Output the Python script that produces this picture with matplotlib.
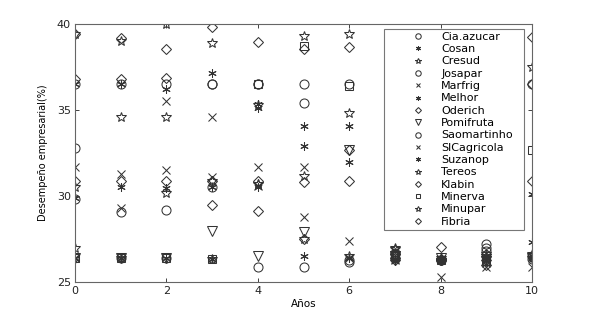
import matplotlib
matplotlib.use("Agg")
import matplotlib.pyplot as plt
import numpy as np

plt.rcParams['font.family'] = ['DejaVu Sans']

years = list(range(11))
names = ["Cia.azucar", "Cosan", "Cresud", "Josapar", "Marfrig", "Melhor", "Oderich",
         "Pomifruta", "Saomartinho", "SlCagricola", "Suzanop", "Tereos", "Klabin",
         "Minerva", "Minupar", "Fibria"]

cia_azucar  = [36.5, 36.5, 36.5, 36.5, 36.5, 36.5, 36.5, 26.6, 26.3, 27.2, 26.5]
cosan       = [26.4, 26.4, 26.4, 26.35, 35.1, 26.5, 26.4, 26.2, 26.4, 26.4, 26.4]
cresud      = [39.4, 39.0, 40.0, 38.9, 30.7, 39.3, 39.4, 27.0, 26.3, 26.5, 37.5]
josapar     = [32.8, 29.05, 29.2, 30.55, 25.85, 35.4, 26.15, 26.4, 26.3, 27.0, 36.5]
marfrig     = [31.7, 31.3, 31.5, 31.1, 31.7, 31.7, 27.4, 26.8, 25.3, 26.1, 25.85]
melhor      = [36.5, 36.5, 36.2, 37.15, 35.35, 34.05, 34.05, 26.3, 26.3, 26.3, 30.1]
oderich     = [36.8, 36.8, 36.85, 29.5, 29.1, 27.5, 32.7, 26.6, 27.05, 26.6, 39.25]
pomifruta   = [26.4, 26.4, 26.4, 27.95, 26.5, 27.9, 32.7, 26.5, 26.4, 26.2, 26.4]
saomartinho = [29.8, 26.4, 26.4, 36.5, 36.5, 25.85, 26.3, 26.7, 26.3, 26.8, 26.35]
slcagricola = [26.4, 29.3, 35.5, 34.6, 30.6, 28.8, 26.4, 26.3, 26.35, 25.85, 26.5]
suzanop     = [29.9, 30.55, 30.45, 30.55, 30.55, 32.9, 31.95, 26.2, 26.2, 26.5, 27.3]
tereos      = [27.0, 34.6, 34.6, 30.85, 35.3, 31.15, 34.8, 26.9, 26.3, 26.4, 26.4]
klabin      = [30.85, 30.85, 30.85, 30.85, 30.85, 30.8, 30.85, 26.4, 26.3, 26.3, 30.85]
minerva     = [26.4, 26.4, 26.4, 26.35, 36.5, 38.7, 36.4, 26.5, 26.3, 26.2, 32.7]
minupar     = [30.5, 26.4, 30.2, 26.35, 30.7, 27.5, 26.5, 26.7, 26.4, 26.6, 26.6]
fibria      = [39.4, 39.2, 38.55, 39.8, 38.95, 38.55, 38.65, 26.3, 26.35, 26.0, 36.5]

series = [cia_azucar, cosan, cresud, josapar, marfrig, melhor, oderich, pomifruta,
          saomartinho, slcagricola, suzanop, tereos, klabin, minerva, minupar, fibria]

ast = (6, 2, 0)
markers = ['o', ast, '*', 'o', 'x', ast, 'D', 'v', 'o', 'x', ast, '*', 'D', 's', '*', 'D']
sizes =   [6.5, 6, 7, 6.5, 5.5, 6, 5, 7, 6.5, 5.5, 6, 7, 5, 6, 7, 5]

fig = plt.figure(figsize=(5.89, 3.18), dpi=100)
ax = fig.add_axes([75/589, 1-282/318, (532-75)/589, (282-24)/318])

col = '#333333'
for vals, m, s, n in zip(series, markers, sizes, names):
    ax.plot(years, vals, linestyle='none', marker=m, markersize=s,
            markerfacecolor='none', markeredgecolor=col, markeredgewidth=0.75,
            color=col, label=n)

ax.set_xlim(0, 10)
ax.set_ylim(25, 40)
ax.set_xticks([0, 2, 4, 6, 8, 10])
ax.set_yticks([25, 30, 35, 40])
ax.tick_params(direction='in', length=3, width=0.6, labelsize=8, colors='#222222',
               top=True, right=True, pad=3)
for sp in ax.spines.values():
    sp.set_color('#666666')
    sp.set_linewidth(0.8)

ax.set_xlabel('Años', fontsize=7.5, labelpad=2)
ax.set_ylabel('Desempeño empresarial(%)', fontsize=7, labelpad=6)

lx0, ly1 = 384/589, 1-29/318
lw, lh = (524-384)/589, (226-29)/318
leg = ax.legend(loc='upper left', bbox_to_anchor=(lx0, ly1-lh, lw, lh),
                bbox_transform=fig.transFigure, mode='expand', fontsize=8,
                markerscale=0.6, frameon=True, fancybox=False, edgecolor='#555555',
                labelspacing=0.21, handlelength=5.6, handletextpad=-0.7,
                borderpad=0.25, borderaxespad=0)
leg.get_frame().set_linewidth(0.8)

fig.savefig('out.png', dpi=100)
